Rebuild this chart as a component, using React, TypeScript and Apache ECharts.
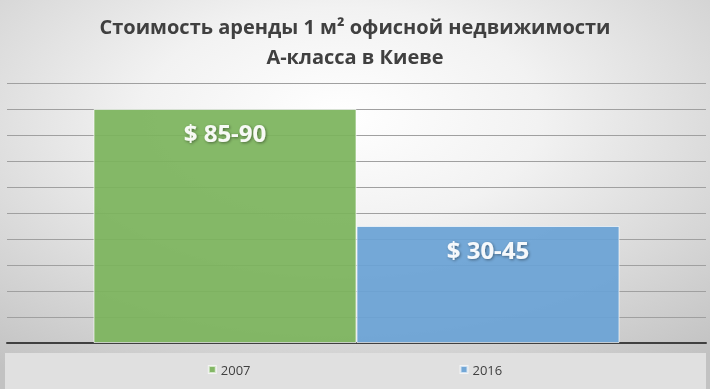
import React, { useEffect, useRef } from "react";
import * as echarts from "echarts";

const titleLines = ["Стоимость аренды 1 м² офисной недвижимости", "А-класса в Киеве"];
const categories = ["Аренда"];
const seriesNames = ["2007", "2016"];
const values2007 = [90];
const values2016 = [45];
const labels = ["$ 85-90", "$ 30-45"];
const colors = ["#7cb45c", "#6aa2d5"];

export default function App() {
  const ref = useRef<HTMLDivElement>(null);
  useEffect(() => {
    if (!ref.current) return;
    const chart = echarts.init(ref.current, undefined, { renderer: "svg" });
    const font = "'Open Sans', 'DejaVu Sans', sans-serif";
    const mkSeries = (i: number, data: number[]) => ({
      type: "bar",
      name: seriesNames[i],
      data,
      barWidth: 263,
      barGap: "0%",
      itemStyle: {
        color: colors[i],
        opacity: 0.93,
        borderColor: "rgba(255,255,255,0.7)",
        borderWidth: 1,
      },
      label: {
        show: true,
        position: "insideTop",
        distance: 11,
        formatter: () => labels[i],
        color: "#ffffff",
        fontSize: 24,
        fontWeight: "bold",
        fontFamily: font,
        textShadowColor: "rgba(0,0,0,0.45)",
        textShadowBlur: 3,
        textShadowOffsetX: 1,
        textShadowOffsetY: 1,
      },
    });
    chart.setOption({
      animation: false,
      graphic: [
        {
          type: "rect",
          z: -100,
          silent: true,
          shape: { x: 0, y: 0, width: 710, height: 389 },
          style: {
            fill: new echarts.graphic.RadialGradient(0.48, 0.3, 0.8, [
              { offset: 0, color: "#ffffff" },
              { offset: 0.35, color: "#f2f2f2" },
              { offset: 1, color: "#c2c2c2" },
            ]),
          },
        },
        {
          type: "rect",
          z: -99,
          silent: true,
          shape: { x: 5, y: 353, width: 701, height: 36 },
          style: { fill: "#e0e0e0" },
        },
      ],
      title: {
        text: titleLines.join("\n"),
        left: "center",
        top: 6,
        textStyle: {
          fontSize: 20,
          fontWeight: "bold",
          color: "#404040",
          fontFamily: font,
          lineHeight: 30,
        },
      },
      legend: {
        bottom: 8,
        left: "center",
        itemWidth: 7,
        itemHeight: 7,
        itemGap: 209,
        icon: "rect",
        textStyle: { fontSize: 13, color: "#404040", fontFamily: font },
        data: seriesNames,
      },
      grid: { left: 7, right: 4, top: 83, bottom: 46, containLabel: false },
      xAxis: {
        type: "category",
        data: categories,
        axisLine: { lineStyle: { color: "#404040", width: 2 } },
        axisTick: { show: false },
        axisLabel: { show: false },
      },
      yAxis: {
        type: "value",
        min: 0,
        max: 100,
        interval: 10,
        axisLabel: { show: false },
        axisLine: { show: false },
        axisTick: { show: false },
        splitLine: { lineStyle: { color: "#a0a0a0", width: 1 } },
      },
      series: [mkSeries(0, values2007), mkSeries(1, values2016)],
    });
    return () => chart.dispose();
  }, []);
  return (
    <div
      ref={ref}
      style={{ position: "fixed", left: 0, top: 0, width: 710, height: 389 }}
    />
  );
}
